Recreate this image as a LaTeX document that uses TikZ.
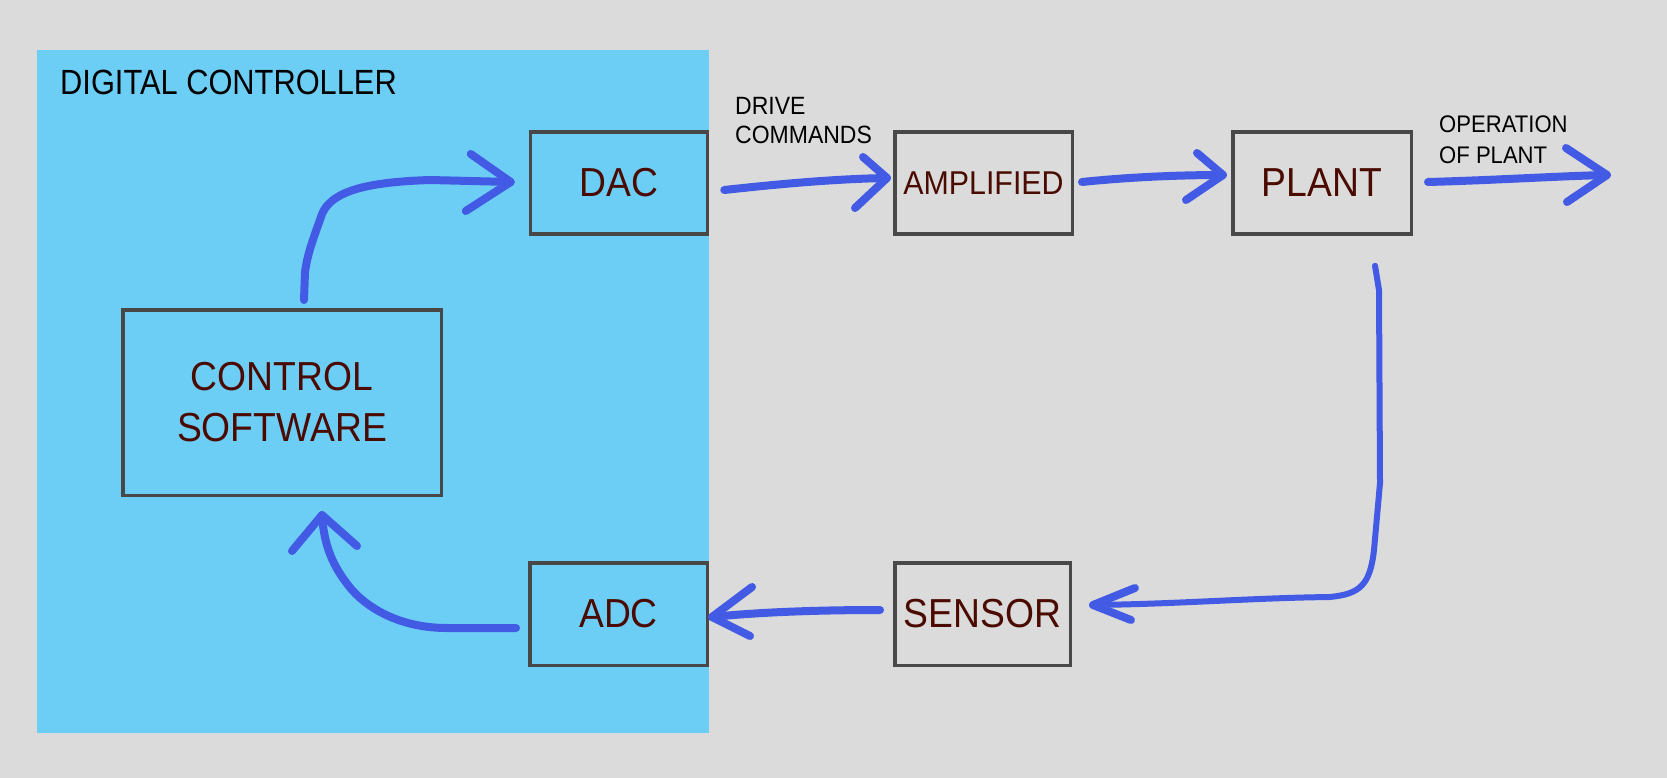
\documentclass[tikz,border=0pt]{standalone}
\usepackage{fontspec}
\setmainfont{Liberation Sans}[FakeStretch=0.92]
\newfontfamily\narrowfont{Liberation Sans}[FakeStretch=0.88]
\usetikzlibrary{calc}
\definecolor{bgc}{HTML}{DBDBDB}
\definecolor{bluec}{HTML}{6DCEF5}
\definecolor{boxc}{HTML}{484848}
\definecolor{txtc}{HTML}{4A0A00}
\definecolor{penc}{HTML}{425AE4}
\begin{document}
\begin{tikzpicture}[x=1pt,y=-1pt,
  box/.style={draw=boxc, line width=3.5pt, inner sep=0pt, text=txtc, align=center,
    font=\fontsize{40.5}{51}\selectfont},
  pen/.style={draw=penc, line width=8pt, line cap=round, line join=round},
  thinpen/.style={pen, line width=6pt},
  lbl/.style={inner sep=0pt, anchor=base west, align=left, text=black}]
\fill[bgc] (0,0) rectangle (1667,778);
\useasboundingbox (0,0) rectangle (1667,778);
\node[fill=bluec, inner sep=0pt, minimum width=672pt, minimum height=683pt] (dc) at (373,391.5) {};
\node[lbl, font=\narrowfont\fontsize{35}{40}\selectfont] (dctitle) at (60,95) {DIGITAL CONTROLLER};

\node[box, minimum width=177pt, minimum height=102pt] (dac) at (619,183) {DAC};
\node[box, fill=bgc, minimum width=177.5pt, minimum height=102pt, font=\fontsize{33}{40}\selectfont] (amp) at (983.5,183) {AMPLIFIED};
\node[box, fill=bgc, minimum width=178.5pt, minimum height=102pt] (plant) at (1322,183) {PLANT};
\node[box, minimum width=318.5pt, minimum height=185.5pt] (cs) at (282,402.5) {CONTROL\\SOFTWARE};
\node[box, minimum width=177.5pt, minimum height=102.5pt] (adc) at (618.5,614) {ADC};
\node[box, fill=bgc, minimum width=175.5pt, minimum height=102.5pt] (sensor) at (982.5,614) {SENSOR};

\node[lbl, font=\fontsize{25}{29}\selectfont] (drive) at (735,144) {DRIVE\\COMMANDS};
\node[lbl, font=\fontsize{24}{31}\selectfont] (oper) at (1439,164) {OPERATION\\OF PLANT};

% control software -> DAC
\coordinate (t1) at ($(dac.west)+(-18,-1)$);
\draw[pen] ($(cs.north)+(22,-8)$) -- (305,272) .. controls (308,250) and (316,232) .. (322,214)
  .. controls (332,190) and (370,182) .. (430,180) -- (t1);
\draw[pen] ($(t1)+(-40,-28)$) -- (t1) -- ($(t1)+(-45,29)$);
% DAC -> amplified
\coordinate (t2) at ($(amp.west)+(-6,-5)$);
\draw[pen] ($(dac.east)+(15,7)$) .. controls (770,185) and (830,179) .. (t2);
\draw[pen] ($(t2)+(-24,-21)$) -- (t2) -- ($(t2)+(-32,30)$);
% amplified -> plant
\coordinate (t3) at ($(plant.west)+(-8,-8)$);
\draw[pen] ($(amp.east)+(8,-1)$) .. controls (1130,177) and (1180,175) .. (t3);
\draw[pen] ($(t3)+(-26,-22)$) -- (t3) -- ($(t3)+(-37,25)$);
% plant -> out
\coordinate (out) at (1607,175);
\draw[pen] ($(plant.east)+(15,-1)$) .. controls (1500,180) and (1560,176) .. (out);
\draw[pen] ($(out)+(-41,-27)$) -- (out) -- ($(out)+(-40,27)$);
% plant -> sensor
\coordinate (t4) at ($(sensor.east)+(21,-9)$);
\draw[thinpen] ($(plant.south)+(53,30)$) -- (1379,290) -- (1380,483) -- (1374,550)
  .. controls (1370,585) and (1360,594) .. (1330,597) .. controls (1250,598) and (1180,604) .. (t4);
\draw[pen] ($(t4)+(42,-17)$) -- (t4) -- ($(t4)+(38,15)$);
% sensor -> ADC
\coordinate (t5) at ($(adc.east)+(3,3)$);
\draw[pen] ($(sensor.west)+(-13,-4)$) .. controls (820,610) and (760,612) .. (t5);
\draw[pen] ($(t5)+(40,-30)$) -- (t5) -- ($(t5)+(38,19)$);
% ADC -> control software
\coordinate (t6) at ($(cs.south)+(40,18)$);
\draw[pen] ($(adc.west)+(-12,14)$) -- (447,628) .. controls (405,628) and (372,612) .. (352,590)
  .. controls (332,566) and (324,545) .. (t6);
\draw[pen] ($(t6)+(-30,36)$) -- (t6) -- ($(t6)+(35,31)$);
\end{tikzpicture}
\end{document}
